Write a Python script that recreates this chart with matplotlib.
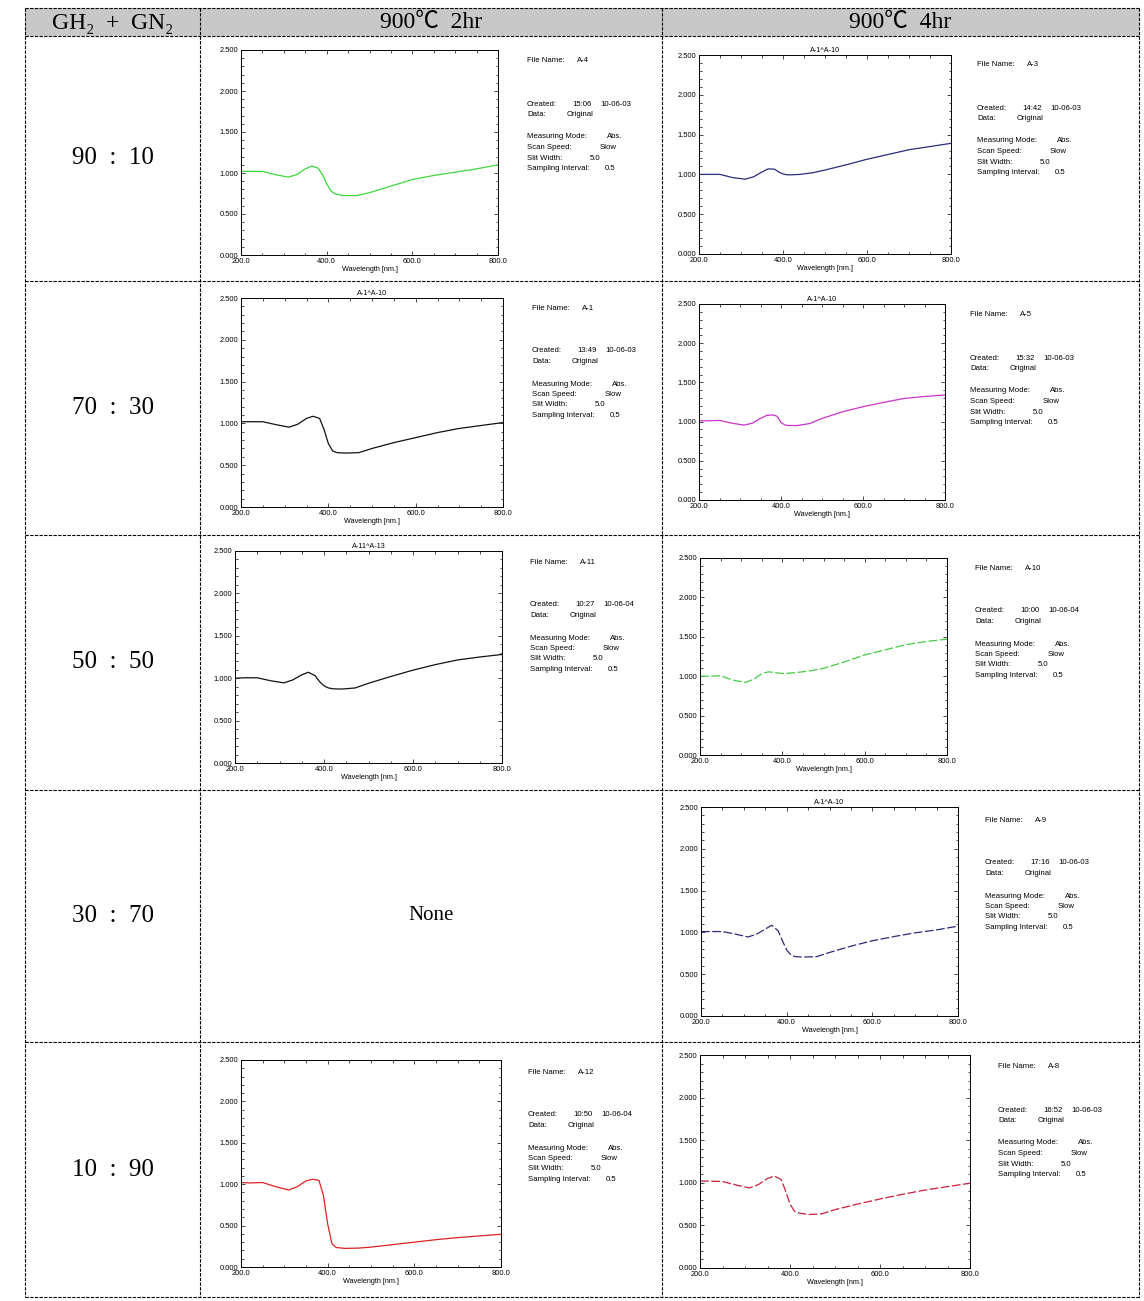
import matplotlib
matplotlib.use('Agg')
import matplotlib.pyplot as plt
from matplotlib.patches import Rectangle
from matplotlib.ticker import MultipleLocator, FormatStrFormatter

W, H = 1144, 1301

# wavelength grid (nm) used for every spectrum
wavelength = [200, 220, 250, 280, 310, 330, 350, 365, 380, 390, 400,
              410, 420, 440, 470, 500, 550, 600, 650, 700, 750, 800]

# absorbance
abs_a4 = [1.02, 1.02, 1.02, 0.98, 0.95, 0.98, 1.05, 1.085, 1.06, 0.98, 0.87,
          0.78, 0.745, 0.725, 0.725, 0.76, 0.84, 0.92, 0.97, 1.01, 1.05, 1.10]
abs_a3 = [1.00, 1.00, 1.00, 0.96, 0.94, 0.97, 1.03, 1.07, 1.065, 1.03, 1.005,
          0.995, 0.995, 1.00, 1.02, 1.055, 1.12, 1.19, 1.25, 1.31, 1.35, 1.39]
abs_a1 = [1.02, 1.02, 1.02, 0.985, 0.955, 0.99, 1.06, 1.085, 1.06, 0.93, 0.76,
          0.67, 0.65, 0.645, 0.65, 0.70, 0.77, 0.83, 0.89, 0.94, 0.975, 1.01]
abs_a5 = [1.01, 1.01, 1.015, 0.98, 0.955, 0.98, 1.04, 1.08, 1.085, 1.07, 0.99,
          0.955, 0.95, 0.95, 0.975, 1.04, 1.125, 1.19, 1.245, 1.295, 1.32, 1.34]
abs_a11 = [1.00, 1.005, 1.005, 0.97, 0.945, 0.98, 1.04, 1.07, 1.03, 0.96, 0.91,
           0.885, 0.875, 0.872, 0.885, 0.94, 1.02, 1.095, 1.16, 1.215, 1.25, 1.28]
abs_a10 = [1.00, 1.00, 1.005, 0.95, 0.92, 0.96, 1.03, 1.055, 1.05, 1.04, 1.035,
           1.035, 1.04, 1.05, 1.07, 1.10, 1.18, 1.27, 1.335, 1.40, 1.44, 1.47]
abs_a9 = [1.01, 1.01, 1.01, 0.98, 0.945, 0.98, 1.04, 1.085, 1.02, 0.90, 0.79,
          0.73, 0.71, 0.705, 0.71, 0.76, 0.835, 0.90, 0.95, 0.995, 1.03, 1.075]
abs_a12 = [1.02, 1.015, 1.02, 0.97, 0.93, 0.97, 1.04, 1.06, 1.045, 0.87, 0.52,
           0.28, 0.235, 0.225, 0.228, 0.24, 0.27, 0.30, 0.33, 0.355, 0.375, 0.395]
abs_a8 = [1.02, 1.02, 1.015, 0.975, 0.94, 0.98, 1.05, 1.08, 1.04, 0.91, 0.75,
          0.665, 0.645, 0.628, 0.635, 0.685, 0.75, 0.81, 0.865, 0.915, 0.955, 0.995]

ratios = ['90  :  10', '70  :  30', '50  :  50', '30  :  70', '10  :  90']
col_heads = ['GH\u2082  +  GN\u2082', '900\u2103  2hr', '900\u2103  4hr']

# (row, col, file name, title, time, date, values, colour, dashed)
cells = [
    (0, 0, 'A-4', None, '15:06', '10-06-03', abs_a4, '#3cd83c', False),
    (0, 1, 'A-3', 'A-1^A-10', '14:42', '10-06-03', abs_a3, '#2b2b80', False),
    (1, 0, 'A-1', 'A-1^A-10', '13:49', '10-06-03', abs_a1, '#111111', False),
    (1, 1, 'A-5', 'A-1^A-10', '15:32', '10-06-03', abs_a5, '#cc33cc', False),
    (2, 0, 'A-11', 'A-11^A-13', '10:27', '10-06-04', abs_a11, '#111111', False),
    (2, 1, 'A-10', None, '10:00', '10-06-04', abs_a10, '#44cc44', True),
    (3, 1, 'A-9', 'A-1^A-10', '17:16', '10-06-03', abs_a9, '#2b2b7a', True),
    (4, 0, 'A-12', None, '10:50', '10-06-04', abs_a12, '#dd2222', False),
    (4, 1, 'A-8', None, '16:52', '10-06-03', abs_a8, '#c8203a', True),
]

# layout in pixels: axes box (left, top, right, bottom) and info anchor
boxes = {
    (0, 0): ((241, 50, 498, 255), (527, 61)),
    (0, 1): ((699, 55, 951, 254), (977, 65)),
    (1, 0): ((241, 298, 503, 507), (532, 308)),
    (1, 1): ((699, 304, 945, 500), (970, 315)),
    (2, 0): ((235, 551, 502, 763), (530, 562)),
    (2, 1): ((700, 558, 947, 755), (975, 568)),
    (3, 1): ((701, 807, 958, 1016), (985, 820)),
    (4, 0): ((241, 1060, 501, 1267), (528, 1072)),
    (4, 1): ((700, 1055, 970, 1268), (998, 1067)),
}

col_x = [25, 200, 662, 1139]
row_y = [8, 36, 281, 535, 790, 1042, 1297]

serif = ['Liberation Serif', 'Noto Sans CJK KR', 'DejaVu Serif']
plt.rcParams['font.family'] = ['Liberation Sans', 'DejaVu Sans']

fig = plt.figure(figsize=(W / 100, H / 100), dpi=100)
tab = fig.add_axes([0, 0, 1, 1])
tab.set_xlim(0, W)
tab.set_ylim(H, 0)
tab.axis('off')

tab.add_patch(Rectangle((col_x[0], row_y[0]), col_x[-1] - col_x[0],
                        row_y[1] - row_y[0], color='#c8c8c8', lw=0))
dash = (0, (3, 1.2))
for x in col_x:
    tab.plot([x, x], [row_y[0], row_y[-1]], color='k', lw=0.8, ls=dash)
for y in row_y:
    tab.plot([col_x[0], col_x[-1]], [y, y], color='k', lw=0.8, ls=dash)

for i, head in enumerate(col_heads):
    tab.text((col_x[i] + col_x[i + 1]) / 2, (row_y[0] + row_y[1]) / 2 + 1, head,
             ha='center', va='center', fontsize=17, family=serif)
for i, r in enumerate(ratios):
    tab.text((col_x[0] + col_x[1]) / 2, (row_y[i + 1] + row_y[i + 2]) / 2, r,
             ha='center', va='center', fontsize=18, family=serif)
tab.text((col_x[1] + col_x[2]) / 2, (row_y[4] + row_y[5]) / 2, 'None',
         ha='center', va='center', fontsize=15, family=serif)


def add_info(x, y, fname, time, date):
    fs = 5.6
    rows = [
        (0, [(0, 'File Name:'), (50, fname)]),
        (43, [(0, 'Created:'), (45, time), (73, date)]),
        (53.5, [(0, 'Data:'), (40, 'Original')]),
        (76, [(0, 'Measuring Mode:'), (80, 'Abs.')]),
        (86.5, [(0, 'Scan Speed:'), (73, 'Slow')]),
        (97, [(0, 'Slit Width:'), (63, '5.0')]),
        (107.5, [(0, 'Sampling Interval:'), (78, '0.5')]),
    ]
    for dy, parts in rows:
        for dx, s in parts:
            tab.text(x + dx, y + dy, s, fontsize=fs, va='center', ha='left')


for row, col, fname, title, time, date, vals, color, dashed in cells:
    (l, t, r, b), (ix, iy) = boxes[(row, col)]
    ax = fig.add_axes([l / W, 1 - b / H, (r - l) / W, (b - t) / H])
    ax.plot(wavelength, vals, color=color, lw=0.9,
            ls=(0, (7, 2)) if dashed else '-')
    ax.set_xlim(200, 800)
    ax.set_ylim(0, 2.5)
    ax.xaxis.set_major_locator(MultipleLocator(200))
    ax.xaxis.set_minor_locator(MultipleLocator(50))
    ax.yaxis.set_major_locator(MultipleLocator(0.5))
    ax.yaxis.set_minor_locator(MultipleLocator(0.1))
    ax.xaxis.set_major_formatter(FormatStrFormatter('%.1f'))
    ax.yaxis.set_major_formatter(FormatStrFormatter('%.3f'))
    ax.tick_params(which='both', direction='in', top=True, right=True,
                   labelsize=5.4, pad=2, width=0.5)
    ax.tick_params(which='major', length=3)
    ax.tick_params(which='minor', length=1.8)
    for s in ax.spines.values():
        s.set_linewidth(0.7)
    ax.set_xlabel('Wavelength [nm.]', fontsize=5.2, labelpad=1)
    if title:
        ax.set_title(title, fontsize=5.2, pad=2)
    add_info(ix, iy, fname, time, date)

fig.savefig('out.png', dpi=100)
